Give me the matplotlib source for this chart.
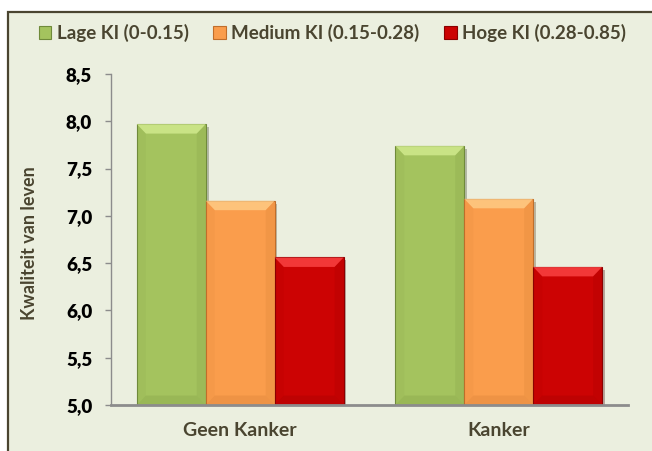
import matplotlib
matplotlib.use("Agg")
import matplotlib.pyplot as plt
import matplotlib.patheffects as pe
from matplotlib.patches import Rectangle, Polygon
import numpy as np

categories = ["Geen Kanker", "Kanker"]
series_names = ["Lage KI (0-0.15)", "Medium KI (0.15-0.28)", "Hoge KI (0.28-0.85)"]
lage = [7.97, 7.74]
medium = [7.16, 7.18]
hoge = [6.56, 6.46]
yticks = [5.0, 5.5, 6.0, 6.5, 7.0, 7.5, 8.0, 8.5]
ytick_labels = ["5,0", "5,5", "6,0", "6,5", "7,0", "7,5", "8,0", "8,5"]

colors = ["#A4C35E", "#FA9D4C", "#CC0303"]
edges = ["#6F8A3A", "#C06E2A", "#8A0000"]
lights = ["#D6EE93", "#FFD08C", "#FF4A4A"]

plt.rcParams['font.family'] = ['Lato', 'DejaVu Sans']
plt.rcParams['font.weight'] = 'bold'

fig = plt.figure(figsize=(6.52, 4.51), dpi=100)
fig.patch.set_facecolor("white")
bg = "#EBEFDF"
frame = Rectangle((8/652, -0.1), 1.2, 1 - 12/451 + 0.1, transform=fig.transFigure,
                  facecolor=bg, edgecolor="#4A4530", linewidth=1.6, zorder=-10)
fig.patches.append(frame)

ax = fig.add_axes([111/652, 1 - 405/451, (628 - 111)/652, (405 - 74)/451])
ax.set_zorder(1)
ax.set_facecolor("none")

x = np.arange(len(categories))
w = 0.8 / 3
ymin = 5.0
bx = 0.035
by = 0.1
for i, vals in enumerate([lage, medium, hoge]):
    xs = x + (i - 1) * w
    bars = ax.bar(xs, np.array(vals) - ymin, width=w, bottom=ymin, color=colors[i],
                  edgecolor=edges[i], linewidth=0.8, zorder=3, label=series_names[i])
    for b in bars:
        b.set_path_effects([pe.SimplePatchShadow(offset=(2, -2), alpha=0.3), pe.Normal()])
        x0, x1 = b.get_x(), b.get_x() + b.get_width()
        top = b.get_y() + b.get_height()
        ax.add_patch(Polygon([[x0, top], [x1, top], [x1 - bx, top - by], [x0 + bx, top - by]],
                             closed=True, facecolor=lights[i], edgecolor="none", alpha=0.75, zorder=4))
        ax.add_patch(Polygon([[x0, ymin], [x1, ymin], [x1 - bx, ymin + by], [x0 + bx, ymin + by]],
                             closed=True, facecolor=edges[i], edgecolor="none", alpha=0.2, zorder=4))
        ax.add_patch(Polygon([[x0, ymin], [x0, top], [x0 + bx, top - by], [x0 + bx, ymin + by]],
                             closed=True, facecolor=edges[i], edgecolor="none", alpha=0.07, zorder=4))
        ax.add_patch(Polygon([[x1, ymin], [x1, top], [x1 - bx, top - by], [x1 - bx, ymin + by]],
                             closed=True, facecolor=edges[i], edgecolor="none", alpha=0.15, zorder=4))

ax.set_xlim(-0.5, 1.5)
ax.set_ylim(5.0, 8.5)
ax.set_yticks(yticks)
ax.set_yticklabels(ytick_labels, fontsize=13.5, fontweight='heavy', color="black")
ax.set_xticks(x)
ax.set_xticklabels(categories, fontsize=14, fontweight='bold', color="#4A4530")
ax.tick_params(axis='y', direction='out', length=4.5, width=1, color="#8C8C8C", pad=9)
ax.tick_params(axis='x', length=0, pad=12)
for s in ["top", "right"]:
    ax.spines[s].set_visible(False)
ax.spines["left"].set_color("#8C8C8C")
ax.spines["left"].set_linewidth(1)
ax.spines["bottom"].set_color("#8C8C8C")
ax.spines["bottom"].set_linewidth(2)
ax.spines["bottom"].set_zorder(5)

ax.set_ylabel("Kwaliteit van leven", fontsize=13, fontweight='bold', color="#4A4530")
ax.yaxis.set_label_coords(-0.141, 0.49)

handles, labels = ax.get_legend_handles_labels()
leg = fig.legend(handles, labels, loc='center', bbox_to_anchor=(0.51, 1 - 33/451), ncol=3,
                 frameon=False, handlelength=0.67, handleheight=0.67, handletextpad=0.3,
                 columnspacing=1.3, prop={'size': 13.5, 'weight': 'bold'})
for t in leg.get_texts():
    t.set_color("#4A4530")
for h in leg.legend_handles:
    h.set_path_effects([])

fig.savefig("out.png", dpi=100, facecolor=fig.get_facecolor())
